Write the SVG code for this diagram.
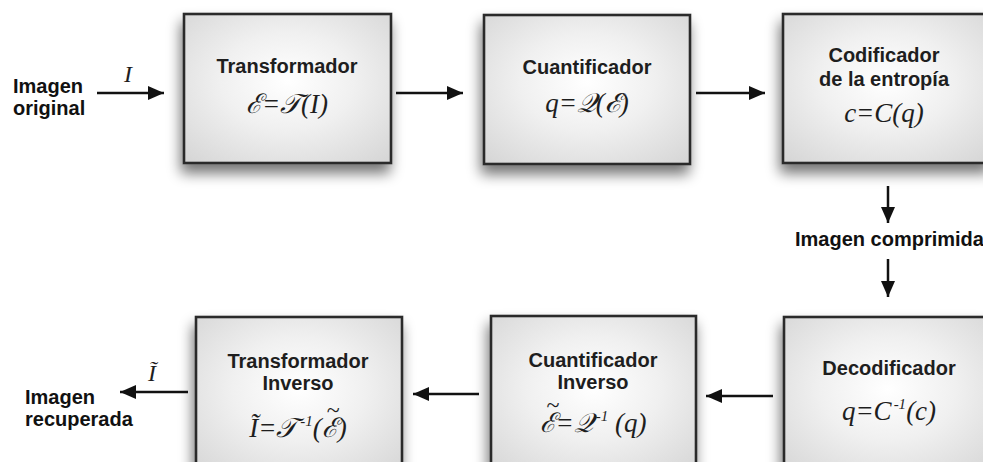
<svg xmlns="http://www.w3.org/2000/svg" width="983" height="462" viewBox="0 0 983 462">
<defs>
<radialGradient id="bg" cx="50%" cy="45%" r="72%">
<stop offset="0" stop-color="#ffffff"/>
<stop offset="0.45" stop-color="#f0f0f0"/>
<stop offset="1" stop-color="#d6d6d6"/>
</radialGradient>
<filter id="sh" x="-20%" y="-20%" width="145%" height="150%">
<feGaussianBlur in="SourceAlpha" stdDeviation="7"/>
<feOffset dx="-2" dy="9" result="o"/>
<feComponentTransfer><feFuncA type="linear" slope="0.55"/></feComponentTransfer>
<feMerge><feMergeNode/><feMergeNode in="SourceGraphic"/></feMerge>
</filter>
<marker id="ah" markerUnits="userSpaceOnUse" markerWidth="18" markerHeight="14" refX="16" refY="7" orient="auto">
<path d="M0,0 L16,7 L0,14 Z" fill="#111"/>
</marker>
</defs>
<style>
.box{fill:url(#bg);stroke:#2b2b2b;stroke-width:2.6;filter:url(#sh)}
.t{font-family:"Liberation Sans",Arial,sans-serif;font-weight:bold;font-size:20px;fill:#1e1e1e;text-anchor:middle}
.l{font-family:"Liberation Sans",Arial,sans-serif;font-weight:bold;font-size:20px;fill:#111}
.f{font-family:"Liberation Serif","DejaVu Serif",serif;font-style:italic;font-size:27px;fill:#1e1e1e;text-anchor:middle}
.tl{font-style:normal;font-size:24px}
.sup{font-size:15px}
.c{stroke:#111;stroke-width:2.5;fill:none;marker-end:url(#ah)}
</style>
<rect width="983" height="462" fill="#ffffff"/>

<g id="n-transformador">
<rect class="box" x="184" y="14" width="207" height="149"/>
<text class="t" x="287" y="73">Transformador</text>
<text class="f" x="287" y="113">ℰ=𝒯(I)</text>
</g>
<g id="n-cuantificador">
<rect class="box" x="484" y="15" width="206" height="149"/>
<text class="t" x="587" y="74">Cuantificador</text>
<text class="f" x="587" y="112">q=𝒬(ℰ)</text>
</g>
<g id="n-codificador">
<rect class="box" x="783" y="14" width="208" height="149"/>
<text class="t" x="884" y="62">Codificador</text>
<text class="t" x="884" y="86">de la entropía</text>
<text class="f" x="884" y="122">c=C(q)</text>
</g>
<g id="n-decodificador">
<rect class="box" x="784" y="317" width="208" height="160"/>
<text class="t" x="889" y="375">Decodificador</text>
<text class="f" x="889" y="420">q=C<tspan class="sup" dx="2" dy="-11">-1</tspan><tspan dy="11">(c)</tspan></text>
</g>
<g id="n-cuantificador-inverso">
<rect class="box" x="491" y="316" width="205" height="160"/>
<text class="t" x="593" y="367">Cuantificador</text>
<text class="t" x="593" y="389">Inverso</text>
<text class="f" x="593" y="432">ℰ<tspan class="tl" dx="-9" dy="-19">~</tspan><tspan dx="-4" dy="19">=𝒬</tspan><tspan class="sup" dx="3" dy="-11">-1</tspan><tspan dy="11"> (q)</tspan></text>
</g>
<g id="n-transformador-inverso">
<rect class="box" x="196" y="317" width="206" height="160"/>
<text class="t" x="298" y="368">Transformador</text>
<text class="t" x="298" y="390">Inverso</text>
<text class="f" x="298" y="437">Ĩ=𝒯<tspan class="sup" dx="3" dy="-11">-1</tspan><tspan dy="11">(ℰ</tspan><tspan class="tl" dx="-11" dy="-19">~</tspan><tspan dx="-2" dy="19">)</tspan></text>
</g>

<g id="connectors">
<line class="c" x1="97" y1="93" x2="164" y2="93"/>
<line class="c" x1="396" y1="93" x2="463" y2="93"/>
<line class="c" x1="696" y1="93" x2="765" y2="93"/>
<line class="c" x1="888" y1="186" x2="888" y2="223"/>
<line class="c" x1="888" y1="259" x2="888" y2="297"/>
<line class="c" x1="773" y1="396" x2="706" y2="396"/>
<line class="c" x1="479" y1="394" x2="413" y2="394"/>
<line class="c" x1="188" y1="392" x2="120" y2="392"/>
</g>

<g id="labels">
<text class="l" x="13" y="93">Imagen</text>
<text class="l" x="13" y="115">original</text>
<text class="f" x="128" y="82" style="font-size:24px">I</text>
<text class="l" x="795" y="246">Imagen comprimida</text>
<text class="f" x="152" y="381" style="font-size:24px">Ĩ</text>
<text class="l" x="25" y="404">Imagen</text>
<text class="l" x="25" y="426">recuperada</text>
</g>
</svg>
